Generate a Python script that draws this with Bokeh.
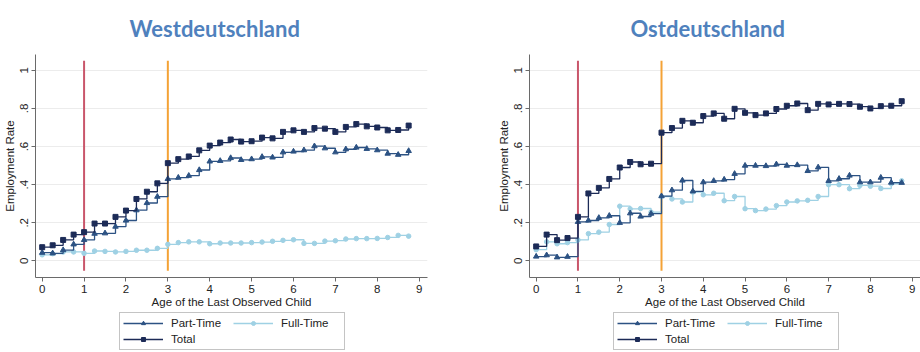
from bokeh.plotting import figure
from bokeh.models import Legend, LegendItem, Range1d, Title, CustomJSTickFormatter, FixedTicker
from bokeh.layouts import row, column
from bokeh.embed import file_html
from bokeh.resources import INLINE

ages = [0, 0.25, 0.5, 0.75, 1, 1.25, 1.5, 1.75, 2, 2.25, 2.5, 2.75,
        3, 3.25, 3.5, 3.75, 4, 4.25, 4.5, 4.75, 5, 5.25, 5.5, 5.75,
        6, 6.25, 6.5, 6.75, 7, 7.25, 7.5, 7.75, 8, 8.25, 8.5, 8.75]

west_total = [0.072, 0.082, 0.11, 0.138, 0.151, 0.196, 0.196, 0.231,
              0.264, 0.325, 0.363, 0.407, 0.513, 0.534, 0.548, 0.58,
              0.605, 0.621, 0.637, 0.626, 0.628, 0.647, 0.643, 0.677,
              0.685, 0.677, 0.697, 0.694, 0.677, 0.703, 0.718, 0.706,
              0.70, 0.685, 0.687, 0.71]
west_part = [0.043, 0.04, 0.057, 0.087, 0.11, 0.143, 0.145, 0.18,
             0.212, 0.266, 0.304, 0.337, 0.43, 0.437, 0.447, 0.477,
             0.522, 0.525, 0.54, 0.53, 0.534, 0.546, 0.543, 0.57,
             0.574, 0.581, 0.602, 0.591, 0.57, 0.586, 0.595, 0.588,
             0.581, 0.563, 0.557, 0.577]
west_full = [0.032, 0.038, 0.047, 0.047, 0.04, 0.052, 0.05, 0.047,
             0.05, 0.056, 0.056, 0.066, 0.087, 0.096, 0.10, 0.10,
             0.09, 0.094, 0.094, 0.094, 0.096, 0.099, 0.103, 0.108,
             0.111, 0.092, 0.092, 0.104, 0.106, 0.115, 0.117, 0.117,
             0.118, 0.123, 0.134, 0.13]

east_total = [0.076, 0.138, 0.109, 0.12, 0.231, 0.354, 0.383, 0.43,
              0.49, 0.519, 0.507, 0.51, 0.673, 0.697, 0.735, 0.725,
              0.76, 0.774, 0.746, 0.798, 0.777, 0.765, 0.774, 0.797,
              0.814, 0.826, 0.791, 0.824, 0.821, 0.824, 0.823, 0.809,
              0.80, 0.812, 0.814, 0.838]
east_part = [0.023, 0.03, 0.019, 0.022, 0.205, 0.212, 0.226, 0.237,
             0.20, 0.25, 0.233, 0.248, 0.34, 0.371, 0.422, 0.365,
             0.413, 0.42, 0.427, 0.457, 0.50, 0.50, 0.498, 0.507,
             0.50, 0.503, 0.472, 0.491, 0.42, 0.431, 0.448, 0.413,
             0.413, 0.437, 0.411, 0.41]
east_full = [0.059, 0.10, 0.09, 0.096, 0.11, 0.143, 0.151, 0.191,
             0.287, 0.273, 0.275, 0.256, 0.338, 0.325, 0.309, 0.361,
             0.347, 0.355, 0.316, 0.338, 0.274, 0.264, 0.272, 0.29,
             0.309, 0.315, 0.318, 0.338, 0.40, 0.40, 0.379, 0.396,
             0.392, 0.38, 0.405, 0.42]

x_ticks = [0, 1, 2, 3, 4, 5, 6, 7, 8, 9]
y_ticks = [0, 0.2, 0.4, 0.6, 0.8, 1.0]
cutoff_ages = [1, 3]
cutoff_colors = ["#c9566b", "#f4a236"]
cutoff_low, cutoff_high = -0.052, 1.05

series_labels = ["Part-Time", "Full-Time", "Total"]
series_markers = ["triangle", "circle", "square"]

C_TOTAL = "#1c2b57"
C_PART = "#2c5283"
C_FULL = "#9fd1e4"
series_colors = [C_PART, C_FULL, C_TOTAL]
FONT = "Liberation Sans"


def make_panel(title_text, total, part, full, width, border_right, title_offset):
    p = figure(width=width, height=310, output_backend="svg", toolbar_location=None,
               x_range=Range1d(-0.16, 9.2), y_range=Range1d(-0.087, 1.083),
               min_border_left=34, min_border_right=border_right,
               min_border_top=52, min_border_bottom=33)
    p.outline_line_color = None
    p.background_fill_color = "white"
    p.border_fill_color = "white"

    p.title = Title(text=title_text, align="left", offset=title_offset,
                    text_font="Lato", text_font_size="22px", text_font_style="bold",
                    text_color="#4f81bd", standoff=25)

    p.xgrid.grid_line_color = None
    p.ygrid.grid_line_color = "#ececec"
    p.ygrid.grid_line_width = 1

    for ax in (p.xaxis[0], p.yaxis[0]):
        ax.axis_line_color = "#6a6a6a"
        ax.major_tick_line_color = "#6a6a6a"
        ax.minor_tick_line_color = None
        ax.major_tick_out = 4
        ax.major_tick_in = 0
        ax.major_label_text_font = FONT
        ax.major_label_text_font_size = "11.5px"
        ax.major_label_text_color = "#222222"
        ax.axis_label_text_font = FONT
        ax.axis_label_text_font_size = "11.5px"
        ax.axis_label_text_font_style = "normal"
        ax.axis_label_text_color = "#222222"
        ax.major_label_standoff = 3

    p.xaxis.ticker = FixedTicker(ticks=x_ticks)
    p.xaxis.axis_label = "Age of the Last Observed Child"
    p.xaxis.axis_label_standoff = 0
    p.yaxis.ticker = FixedTicker(ticks=y_ticks)
    p.yaxis.axis_label = "Employment Rate"
    p.yaxis.axis_label_standoff = 2
    p.yaxis.major_label_orientation = "vertical"
    p.yaxis.formatter = CustomJSTickFormatter(code="""
        if (Math.abs(tick) < 1e-6) return "0";
        if (Math.abs(tick - 1) < 1e-6) return "1";
        return tick.toFixed(1).replace(/^0/, "");
    """)

    p.segment(x0=cutoff_ages, y0=[cutoff_low] * len(cutoff_ages),
              x1=cutoff_ages, y1=[cutoff_high] * len(cutoff_ages),
              line_color=cutoff_colors, line_width=2)

    for vals, color, marker, size in ((full, C_FULL, "circle", 4.5),
                                      (part, C_PART, "triangle", 5.5),
                                      (total, C_TOTAL, "square", 5)):
        p.step(ages, vals, mode="after", line_color=color, line_width=1.3)
        p.scatter(ages, vals, marker=marker, size=size, color=color)
    return p


def make_legend(width, border_right, total, part, full):
    # legend-only strip: the series are drawn out of view, only the legend shows
    lf = figure(width=width, height=42, output_backend="svg", toolbar_location=None,
                x_axis_type=None, y_axis_type=None,
                x_range=Range1d(-100, -99), y_range=Range1d(-100, -99),
                min_border_left=34, min_border_right=border_right,
                min_border_top=0, min_border_bottom=0)
    lf.outline_line_color = None
    lf.grid.grid_line_color = None
    lf.background_fill_color = "white"
    lf.border_fill_color = "white"
    items = []
    for lab, col, mk, vals in zip(series_labels, series_colors, series_markers,
                                  (part, full, total)):
        rl = lf.step(ages, vals, mode="after", line_color=col, line_width=1.3)
        rm = lf.scatter(ages, vals, marker=mk, color=col)
        items.append(LegendItem(label=lab, renderers=[rl, rm]))
    legend = Legend(items=items, orientation="horizontal", ncols=2, location=(84, 2))
    legend.label_text_font = FONT
    legend.label_text_font_size = "11.5px"
    legend.label_text_color = "#222222"
    legend.border_line_color = "#8a8a8a"
    legend.border_line_width = 1
    legend.background_fill_color = "white"
    legend.padding = 3
    legend.spacing = 2
    legend.margin = 0
    legend.glyph_width = 40
    legend.glyph_height = 10
    legend.label_height = 14
    legend.label_standoff = 8
    legend.label_width = 60
    lf.add_layout(legend, "center")
    return lf


p1 = make_panel("Westdeutschland", west_total, west_part, west_full, 494, 67, 94)
p2 = make_panel("Ostdeutschland", east_total, east_part, east_full, 426, 0, 101)
l1 = make_legend(494, 67, west_total, west_part, west_full)
l2 = make_legend(426, 0, east_total, east_part, east_full)

layout = row(column(p1, l1), column(p2, l2))
open("out.html", "w").write(file_html(layout, INLINE))
